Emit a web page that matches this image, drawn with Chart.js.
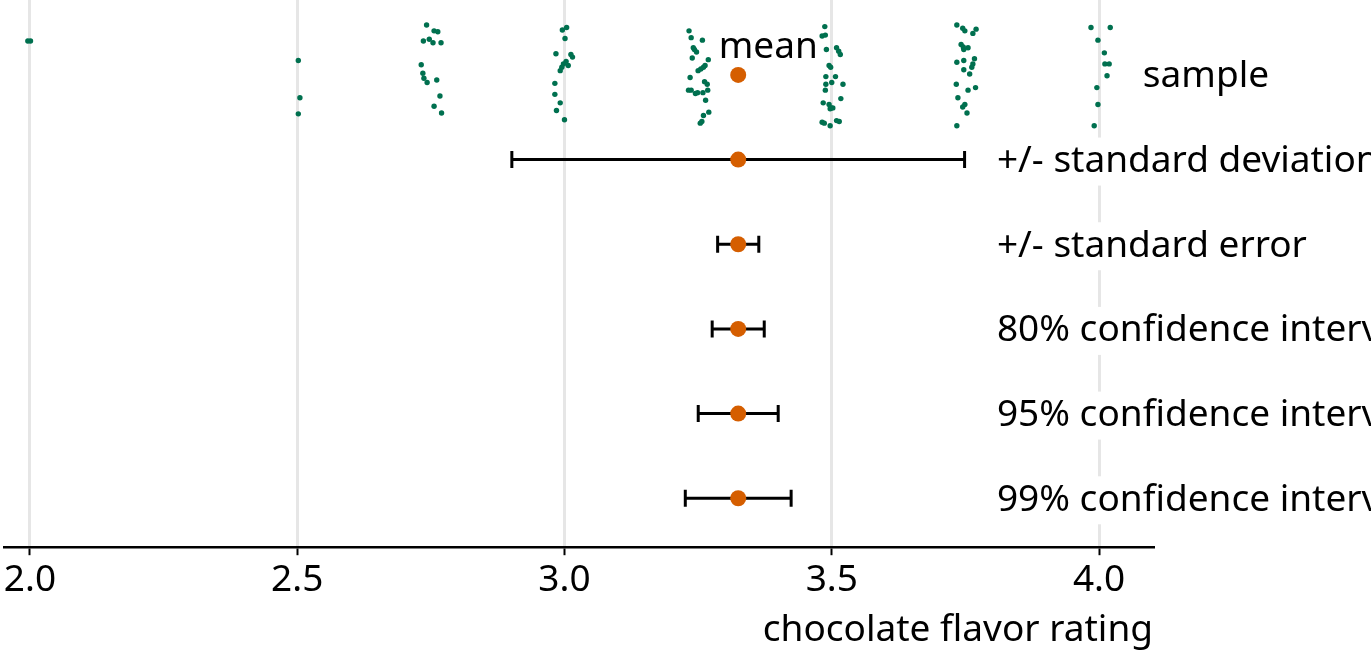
<!DOCTYPE html>
<html>
<head>
<meta charset="utf-8">
<script src="https://cdn.jsdelivr.net/npm/chart.js@4/dist/chart.umd.min.js"></script>
<style>
    html, body { margin: 0; padding: 0; background: #ffffff; }
    #contenedor { width: 1371px; height: 658px; }
</style>
</head>
<body>
<div id="contenedor"><canvas id="graficoCanvas" width="1371" height="658"></canvas></div>
<script>
// Valores
const ratingTicks = [2.0, 2.5, 3.0, 3.5, 4.0];

const sampleRatings = [
    1.996, 2.001,
    2.502, 2.505, 2.502,
    2.742, 2.756, 2.763, 2.736, 2.747, 2.754, 2.769, 2.732, 2.735, 2.737, 2.743, 2.761, 2.767, 2.756, 2.770,
    3.004, 2.996, 3.001, 2.984, 3.012, 3.015, 3.003, 2.998, 3.007, 2.995, 2.992, 2.982, 2.982, 2.992, 2.985, 3.000,
    3.233, 3.237, 3.258, 3.241, 3.243, 3.247, 3.239, 3.269, 3.263, 3.260, 3.255, 3.250, 3.235, 3.262, 3.267,
    3.232, 3.237, 3.249, 3.245, 3.259, 3.268, 3.264, 3.270, 3.260, 3.257, 3.254,
    3.487, 3.482, 3.488, 3.490, 3.509, 3.513, 3.516, 3.495, 3.498, 3.489, 3.507, 3.500, 3.489, 3.521, 3.488,
    3.517, 3.484, 3.495, 3.499, 3.497, 3.502, 3.482, 3.486, 3.497, 3.509, 3.514,
    3.734, 3.745, 3.749, 3.770, 3.764, 3.742, 3.746, 3.755, 3.747, 3.767, 3.734, 3.747, 3.764, 3.762, 3.747,
    3.758, 3.733, 3.755, 3.769, 3.736, 3.749, 3.745, 3.753, 3.734,
    3.985, 4.021, 3.998, 4.010, 4.011, 4.019, 4.015, 3.996, 3.998, 3.991
];

const sampleJitter = [
    0.40, 0.40,
    0.17, -0.27, -0.46,
    0.59, 0.52, 0.51, 0.40, 0.42, 0.38, 0.38, 0.12, 0.02, -0.04, -0.09, -0.06, -0.25, -0.37, -0.45,
    0.56, 0.53, 0.43, 0.25, 0.24, 0.21, 0.16, 0.13, 0.11, 0.09, 0.05, -0.10, -0.23, -0.33, -0.42, -0.53,
    0.52, 0.44, 0.41, 0.32, 0.30, 0.27, 0.20, 0.18, 0.11, 0.09, 0.07, 0.05, -0.03, -0.08, -0.11,
    -0.18, -0.18, -0.21, -0.22, -0.21, -0.18, -0.30, -0.44, -0.48, -0.55, -0.57,
    0.57, 0.46, 0.47, 0.30, 0.32, 0.28, 0.24, 0.11, 0.09, -0.02, -0.02, -0.09, -0.11, -0.11, -0.18,
    -0.28, -0.33, -0.35, -0.39, -0.40, -0.39, -0.56, -0.57, -0.60, -0.54, -0.55,
    0.59, 0.55, 0.52, 0.54, 0.49, 0.36, 0.33, 0.32, 0.30, 0.19, 0.15, 0.17, 0.13, 0.09, 0.06,
    0.01, -0.11, -0.18, -0.15, -0.27, -0.35, -0.38, -0.45, -0.60,
    0.56, 0.56, 0.41, 0.26, 0.13, 0.13, -0.01, -0.15, -0.35, -0.60
];

const meanRating = 3.325;

// Filas de abajo hacia arriba
const rowLabels = [
    '99% confidence interval',
    '95% confidence interval',
    '80% confidence interval',
    '+/- standard error',
    '+/- standard deviation',
    'sample'
];

// Semiamplitud de cada intervalo (mismo orden que rowLabels, sin 'sample')
const intervalHalfWidths = [0.0990, 0.0748, 0.0487, 0.0385, 0.4235];

const fuente = '"Noto Sans", "Open Sans", sans-serif';
const tamanoTexto = 37;

/**
 * Dibuja las etiquetas de cada fila y la etiqueta 'mean'.
 */
const etiquetasFilas = {
    id: 'etiquetasFilas',
    afterDatasetsDraw(chart) {
        const ctx = chart.ctx;
        const escalaX = chart.scales.x;
        const escalaY = chart.scales.y;
        const filaMuestra = rowLabels.length - 1;

        ctx.save();
        ctx.font = tamanoTexto + 'px ' + fuente;
        ctx.textBaseline = 'middle';
        ctx.textAlign = 'left';

        for (let i = 0; i < rowLabels.length; i++) {
            const y = escalaY.getPixelForValue(i) + 2;
            const x = i === filaMuestra ? escalaX.getPixelForValue(4.082) : escalaX.getPixelForValue(3.809);
            const ancho = ctx.measureText(rowLabels[i]).width;

            ctx.fillStyle = '#ffffff';
            ctx.fillRect(x - 4, y - 24, ancho + 8, 48);
            ctx.fillStyle = '#000000';
            ctx.fillText(rowLabels[i], x, y);
        }

        ctx.textAlign = 'center';
        ctx.fillText('mean', escalaX.getPixelForValue(meanRating) + 30, escalaY.getPixelForValue(filaMuestra) - 27);
        ctx.restore();
    }
};

/**
 * Construye los conjuntos de datos: muestra, medias e intervalos.
 */
function obtenerConjuntoDatos() {
    const filaMuestra = rowLabels.length - 1;
    let datos = [];

    datos.push({
        label: 'mean',
        data: rowLabels.map((etiqueta, i) => ({ x: meanRating, y: i })),
        showLine: false,
        pointRadius: 8,
        pointBackgroundColor: '#d55e00',
        pointBorderWidth: 0,
        order: 0
    });

    for (let i = 0; i < intervalHalfWidths.length; i++) {
        datos.push({
            label: rowLabels[i],
            data: [
                { x: meanRating - intervalHalfWidths[i], y: i },
                { x: meanRating + intervalHalfWidths[i], y: i }
            ],
            showLine: true,
            borderColor: '#000000',
            borderWidth: 3,
            pointStyle: 'line',
            pointRotation: 90,
            pointRadius: 8.5,
            pointBorderColor: '#000000',
            pointBorderWidth: 3,
            order: 1
        });
    }

    datos.push({
        label: 'sample',
        data: sampleRatings.map((valor, i) => ({ x: valor, y: filaMuestra + sampleJitter[i] })),
        showLine: false,
        pointRadius: 2.7,
        pointBackgroundColor: '#00704f',
        pointBorderWidth: 0,
        order: 2
    });

    return datos;
}

/**
 * Genera el grafico en el canvas.
 */
function generarVisualizacion() {
    new Chart(document.getElementById('graficoCanvas'), {
        type: 'scatter',
        data: { datasets: obtenerConjuntoDatos() },
        options: {
            responsive: false,
            animation: false,
            devicePixelRatio: 1,
            layout: {
                autoPadding: false,
                padding: { left: 4, right: 218, top: 0, bottom: 0 }
            },
            plugins: {
                legend: { display: false },
                tooltip: { enabled: false }
            },
            scales: {
                x: {
                    type: 'linear',
                    min: 1.9514,
                    max: 4.101,
                    afterBuildTicks: (escala) => {
                        escala.ticks = ratingTicks.map(v => ({ value: v }));
                    },
                    ticks: {
                        color: '#000000',
                        padding: 3,
                        font: { family: fuente, size: tamanoTexto },
                        callback: (valor) => Number(valor).toFixed(1)
                    },
                    grid: {
                        color: '#e6e6e6',
                        lineWidth: 3,
                        tickColor: '#000000',
                        tickWidth: 2,
                        tickLength: 8
                    },
                    border: { display: true, color: '#000000', width: 2.5 },
                    title: {
                        display: true,
                        text: 'chocolate flavor rating',
                        align: 'end',
                        color: '#000000',
                        font: { family: fuente, size: tamanoTexto },
                        padding: { top: 3, bottom: 5 }
                    }
                },
                y: {
                    type: 'linear',
                    display: false,
                    min: -0.5778,
                    max: 5.8844
                }
            }
        },
        plugins: [etiquetasFilas]
    });
}

generarVisualizacion();
</script>
</body>
</html>
